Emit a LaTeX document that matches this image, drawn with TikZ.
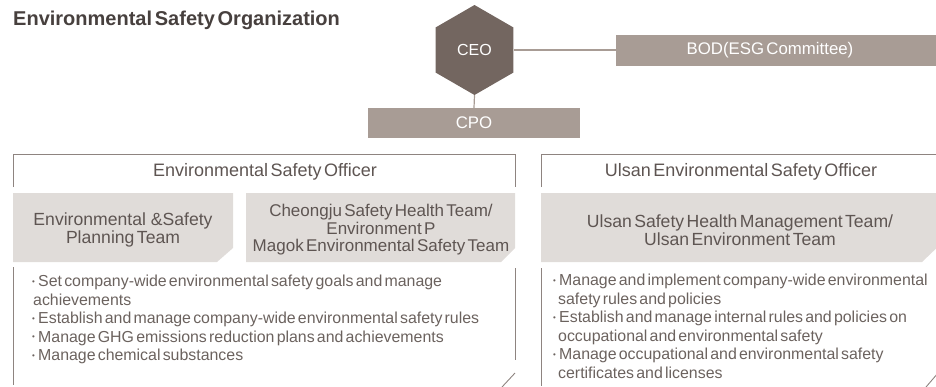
\documentclass[tikz,border=0pt]{standalone}
\usepackage{fontspec}
\setmainfont{Liberation Sans}[WordSpace=0.5]
\usetikzlibrary{shapes.geometric}
\definecolor{hexfill}{HTML}{736660}
\definecolor{boxfill}{HTML}{A89C95}
\definecolor{teamfill}{HTML}{E0DCD9}
\definecolor{frameline}{HTML}{8E8480}
\definecolor{titletext}{HTML}{47403E}
\definecolor{teamtext}{HTML}{5E5552}
\definecolor{bullettext}{HTML}{6B625E}
\newcommand\dutymark{\makebox[6pt][l]{\raisebox{0.3ex}{\scalebox{0.5}{\textbullet}}}}
\tikzset{
  hexnode/.style={regular polygon, regular polygon sides=6, shape border rotate=30,
    minimum size=90pt, inner sep=0pt, fill=hexfill, text=white,
    font=\fontsize{16}{18}\selectfont},
  topbox/.style={fill=boxfill, text=white, inner sep=0pt,
    font=\fontsize{16.8}{18}\selectfont},
  link/.style={draw=boxfill, line width=1.2pt},
  frame/.style={draw=frameline, line width=0.9pt},
  teambox/.style={fill=teamfill},
  headtext/.style={text=teamtext, font=\fontsize{18}{20}\selectfont},
  teamlabel/.style={text=teamtext, align=center, font=\fontsize{17.6}{18.5}\selectfont},
  bullets/.style={text=bullettext, align=left, anchor=north west, inner sep=0pt,
    font=\fontsize{15.9}{18.5}\selectfont}
}
\begin{document}
\begin{tikzpicture}[x=1pt,y=-1pt]
\useasboundingbox (0,0) rectangle (936,386);

% title
\node[anchor=west, text=titletext, inner sep=0pt,
  font=\fontsize{20}{22}\selectfont\bfseries] (title) at (13,20) {Environmental Safety Organization};

% top of the organization
\node[hexnode] (ceo) at (474.5,50) {CEO};
\node[topbox, minimum width=330pt, minimum height=31pt] (bod) at (781,50.5) {\hspace*{-22pt}BOD(ESG Committee)};
\node[topbox, minimum width=212pt, minimum height=30pt] (cpo) at (474,123) {CPO};
\draw[link] (ceo.east) -- (ceo.east -| bod.west);
\draw[link] (ceo.south) -- (cpo.north);

% left division: header bracket
\draw[frame] (13,187) -- (13,154) -- (515,154) -- (515,187);
\node[headtext] (eso) at (265,172) {Environmental Safety Officer};

% left division: team boxes
\fill[teambox] (13,193) -- (233,193) -- (233,248) -- (217,262) -- (13,262) -- cycle;
\fill[teambox] (246,193) -- (515,193) -- (515,248) -- (501,262) -- (246,262) -- cycle;
\node[teamlabel] (planning) at (123,230) {Environmental \ \&Safety\\Planning Team};
\node[teamlabel, font=\fontsize{17}{17.5}\selectfont] (cheongju) at (381,230)
  {Cheongju Safety Health Team/\\Environment P\\Magok Environmental Safety Team};

% left division: duties
\draw[frame] (13,267) -- (13,385);
\draw[frame] (515,268) -- (515,360);
\draw[frame] (515,373) -- (502,387);
\node[bullets] (leftduties) at (32,275) {%
  \dutymark Set company-wide environmental safety goals and manage\\
  \hspace*{1pt}achievements\\
  \dutymark Establish and manage company-wide environmental safety rules\\
  \dutymark Manage GHG emissions reduction plans and achievements\\
  \dutymark Manage chemical substances};

% right division: header bracket
\draw[frame] (541,187) -- (541,154) -- (940,154);
\node[headtext] (useo) at (741,172) {Ulsan Environmental Safety Officer};

% right division: team box
\fill[teambox] (541,193) -- (945,193) -- (945,240) -- (922,262) -- (541,262) -- cycle;
\node[teamlabel] (ulsan) at (740,230)
  {Ulsan Safety Health Management Team/\\Ulsan Environment Team};

% right division: duties
\draw[frame] (541,268) -- (541,386);
\draw[frame] (938,373) -- (926,387);
\node[bullets] (rightduties) at (553,274) {%
  \dutymark Manage and implement company-wide environmental\\
  \hspace*{5pt}safety rules and policies\\
  \dutymark Establish and manage internal rules and policies on\\
  \hspace*{5pt}occupational and environmental safety\\
  \dutymark Manage occupational and environmental safety\\
  \hspace*{5pt}certificates and licenses};
\end{tikzpicture}
\end{document}
